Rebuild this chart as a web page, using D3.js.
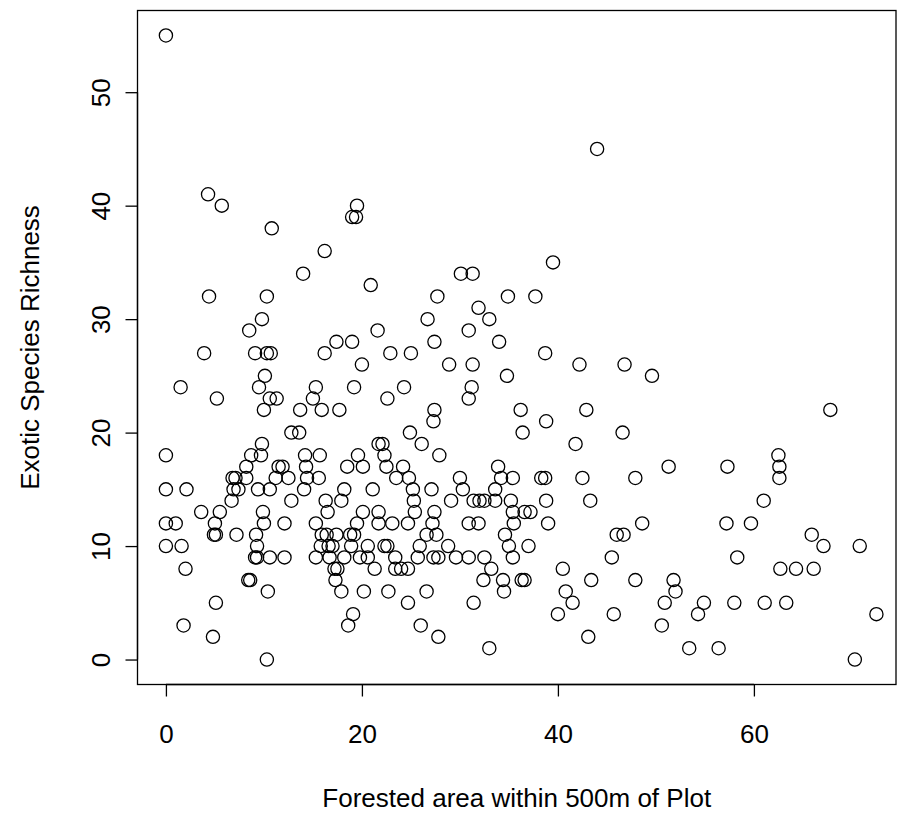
<!DOCTYPE html>
<html>
<head>
<meta charset="utf-8">
<script src="https://cdn.jsdelivr.net/npm/d3@7"></script>
<style>
  body { margin: 0; background: #fff; }
  svg text { font-family: "Liberation Sans", Arial, sans-serif; fill: #000; }
</style>
</head>
<body>
<svg width="898" height="813"></svg>
<script>
var svg = d3.select('svg');

// richness levels (y) and the forested-area values (x) read at each level
var richnessLevels = [55, 45, 41, 40, 39, 38, 36, 35, 34, 33, 32, 31, 30, 29, 28, 27, 26, 25, 24, 23,
  22, 21, 20, 19, 18, 17, 16, 15, 14, 13, 12, 11, 10, 9, 8, 7, 6, 5, 4, 3, 2, 1, 0];

var forestedByLevel = [
  [0],
  [44.0],
  [4.3],
  [5.7, 19.5],
  [19.0, 19.4],
  [10.8],
  [16.2],
  [39.5],
  [14.0, 30.1, 31.3],
  [20.9],
  [4.4, 10.3, 27.7, 34.9, 37.7],
  [31.9],
  [9.8, 26.7, 33.0],
  [8.5, 21.6, 30.9],
  [17.4, 19.0, 27.4, 34.0],
  [3.9, 9.1, 10.3, 10.7, 16.2, 22.9, 25.0, 38.7],
  [20.0, 28.9, 31.3, 42.2, 46.8],
  [10.1, 34.8, 49.6],
  [1.5, 9.5, 15.3, 19.2, 24.3, 31.2],
  [5.2, 10.6, 11.3, 15.0, 22.6, 30.9],
  [10.0, 13.7, 15.9, 17.7, 27.4, 36.2, 42.9, 67.8],
  [27.3, 38.8],
  [12.8, 13.6, 24.9, 36.4, 46.6],
  [9.8, 21.7, 22.1, 26.1, 41.8],
  [0, 8.7, 9.7, 14.2, 15.7, 19.6, 22.3, 27.9, 62.5],
  [8.2, 11.5, 11.9, 14.3, 18.5, 20.1, 22.5, 24.2, 33.9, 51.3, 57.3, 62.6],
  [6.8, 7.1, 8.2, 11.2, 12.5, 14.4, 15.6, 23.5, 24.8, 30.0, 34.2, 35.4, 38.3, 38.7, 42.5, 47.9, 62.6],
  [0, 2.1, 6.9, 7.4, 9.4, 10.6, 14.1, 18.2, 21.1, 25.2, 27.1, 30.3, 33.6],
  [6.7, 12.8, 16.3, 17.9, 25.3, 29.1, 31.4, 32.0, 32.5, 33.6, 35.2, 38.8, 43.3, 61.0],
  [3.6, 5.5, 9.9, 16.5, 20.1, 21.7, 25.4, 27.4, 35.4, 36.6, 37.2],
  [0, 1.0, 5.0, 10.0, 12.1, 15.3, 19.5, 21.7, 23.1, 24.7, 27.2, 30.9, 31.9, 35.5, 39.0, 48.6, 57.2, 59.7],
  [4.9, 5.1, 7.2, 9.2, 15.9, 16.4, 17.4, 18.8, 19.2, 26.6, 27.6, 34.6, 46.0, 46.7, 65.9],
  [0, 1.6, 9.3, 15.8, 16.6, 17.0, 18.9, 20.6, 22.3, 22.6, 25.9, 28.8, 35.0, 37.0, 67.1, 70.8],
  [9.1, 9.3, 10.6, 12.1, 15.3, 16.7, 18.2, 19.8, 20.6, 23.4, 25.7, 27.3, 27.8, 29.6, 30.9, 32.5, 35.4, 45.5, 58.3],
  [2.0, 17.2, 17.5, 21.3, 23.4, 24.0, 24.7, 33.2, 40.5, 62.7, 64.3, 66.1],
  [8.4, 8.6, 17.3, 32.4, 34.4, 36.3, 36.6, 43.4, 47.9, 51.8],
  [10.4, 17.9, 20.2, 22.7, 26.6, 34.5, 40.8, 52.0],
  [5.1, 24.7, 31.4, 41.5, 50.9, 54.9, 58.0, 61.1, 63.3],
  [19.1, 40.0, 45.7, 54.3, 72.5],
  [1.8, 18.6, 26.0, 50.6],
  [4.8, 27.8, 43.1],
  [33.0, 53.4, 56.4],
  [10.3, 70.3]
];

var xTicks = [0, 20, 40, 60];
var yTicks = [0, 10, 20, 30, 40, 50];
var xTitle = 'Forested area within 500m of Plot';
var yTitle = 'Exotic Species Richness';

var points = [];
richnessLevels.forEach(function (r, i) {
  forestedByLevel[i].forEach(function (f) {
    points.push({ forested: f, richness: r });
  });
});

var plotLeft = 137.5, plotRight = 896, plotTop = 10.5, plotBottom = 684.5;

var x = d3.scaleLinear().domain([-2.9, 74.5]).range([plotLeft, plotRight]);
var y = d3.scaleLinear().domain([-2.2, 57.2]).range([plotBottom, plotTop]);

// box
svg.append('rect')
  .attr('x', plotLeft).attr('y', plotTop)
  .attr('width', plotRight - plotLeft).attr('height', plotBottom - plotTop)
  .attr('fill', 'none').attr('stroke', '#000').attr('stroke-width', 1.3);

var xAxis = svg.append('g')
  .attr('transform', 'translate(0,' + plotBottom + ')')
  .call(d3.axisBottom(x).tickValues(xTicks).tickSize(12).tickPadding(28).tickFormat(d3.format('d')));

var yAxis = svg.append('g')
  .attr('transform', 'translate(' + plotLeft + ',0)')
  .call(d3.axisLeft(y).tickValues(yTicks).tickSize(12).tickPadding(20).tickFormat(d3.format('d')));

[xAxis, yAxis].forEach(function (g) {
  g.select('.domain').remove();
  g.selectAll('line').attr('stroke', '#000').attr('stroke-width', 1.3);
  g.selectAll('text').style('font-size', '26px').style('font-family', '"Liberation Sans", Arial, sans-serif').attr('fill', '#000');
});

// R-style axis lines spanning first to last tick
xAxis.append('line')
  .attr('x1', x(xTicks[0])).attr('x2', x(xTicks[xTicks.length - 1]))
  .attr('stroke', '#000').attr('stroke-width', 1.3);
yAxis.append('line')
  .attr('y1', y(yTicks[0])).attr('y2', y(yTicks[yTicks.length - 1]))
  .attr('stroke', '#000').attr('stroke-width', 1.3);

// y tick labels run along the axis, as in R's default
yAxis.selectAll('.tick text')
  .attr('x', null)
  .attr('text-anchor', 'middle')
  .attr('transform', 'translate(-37,0) rotate(-90)')
  .attr('dy', '0.35em');

svg.append('text')
  .attr('x', (plotLeft + plotRight) / 2).attr('y', 807)
  .attr('text-anchor', 'middle')
  .style('font-size', '26px')
  .text(xTitle);

svg.append('text')
  .attr('transform', 'translate(30,' + ((plotTop + plotBottom) / 2) + ') rotate(-90)')
  .attr('text-anchor', 'middle')
  .attr('dy', '0.35em')
  .style('font-size', '26px')
  .text(yTitle);

svg.selectAll('circle')
  .data(points)
  .enter()
  .append('circle')
  .attr('cx', function (d) { return x(d.forested); })
  .attr('cy', function (d) { return y(d.richness); })
  .attr('r', 6.6)
  .attr('fill', 'none')
  .attr('stroke', '#000')
  .attr('stroke-width', 1.3);
</script>
</body>
</html>
